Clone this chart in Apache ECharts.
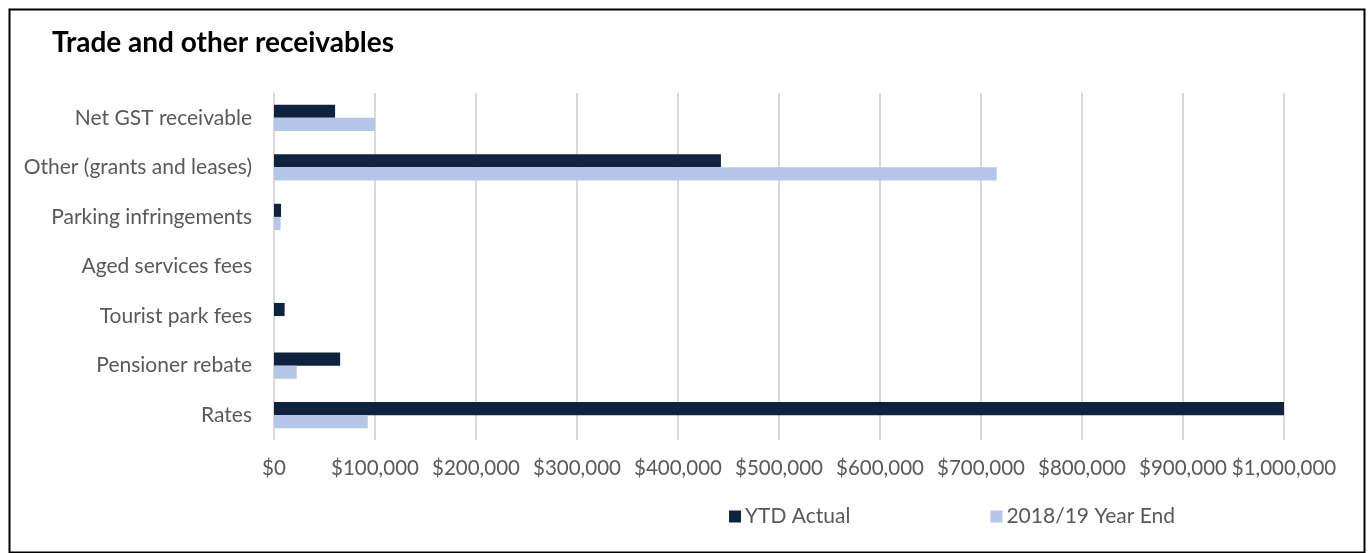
<!DOCTYPE html>
<html>
<head>
<meta charset="utf-8">
<script src="https://cdn.jsdelivr.net/npm/echarts@6/dist/echarts.min.js"></script>
<style>
html,body{margin:0;padding:0;background:#fff;}
#chart{width:1370px;height:553px;}
</style>
</head>
<body>
<div id="chart"></div>
<script>
const categories = ["Net GST receivable","Other (grants and leases)","Parking infringements","Aged services fees","Tourist park fees","Pensioner rebate","Rates"];
const ytdActual = [60500, 442500, 7000, 0, 10500, 65500, 1000000];
const yearEnd1819 = [100000, 715500, 6500, 0, 0, 22500, 92800];
const seriesNames = ["YTD Actual", "2018/19 Year End"];
const xTicks = { min: 0, max: 1000000, interval: 100000 };

const chart = echarts.init(document.getElementById('chart'));
const font = 'Lato, "Open Sans", sans-serif';
chart.setOption({
  animation: false,
  title: {
    text: 'Trade and other receivables',
    left: 52, top: 29, padding: 0,
    textStyle: { fontFamily: font, fontSize: 28, fontWeight: 'bold', color: '#000' }
  },
  graphic: [{
    type: 'rect', left: 7, top: 7,
    shape: { width: 1355, height: 543 },
    style: { fill: 'none', stroke: '#000', lineWidth: 2 }
  }],
  legend: {
    data: seriesNames,
    left: 729, top: 506, padding: 0,
    itemWidth: 12, itemHeight: 12, itemGap: 140,
    icon: 'rect',
    textStyle: { fontFamily: font, fontSize: 21, color: '#595959', padding: [0,0,0,-1] }
  },
  grid: { left: 274, right: 86, top: 93, bottom: 113, containLabel: false },
  xAxis: {
    type: 'value', min: xTicks.min, max: xTicks.max, interval: xTicks.interval,
    axisLine: { show: false }, axisTick: { show: false },
    splitLine: { lineStyle: { color: '#d9d9d9', width: 2 } },
    axisLabel: {
      fontFamily: font, fontSize: 20.5, color: '#595959', margin: 18,
      formatter: v => '$' + v.toLocaleString('en-US')
    }
  },
  yAxis: {
    type: 'category', data: categories, inverse: true,
    axisLine: { show: false }, axisTick: { show: false },
    axisLabel: { fontFamily: font, fontSize: 21, color: '#595959', margin: 22 }
  },
  series: [
    { name: seriesNames[0], type: 'bar', data: ytdActual, barGap: '0%', barCategoryGap: '47%',
      itemStyle: { color: '#0f2341' } },
    { name: seriesNames[1], type: 'bar', data: yearEnd1819, barGap: '0%', barCategoryGap: '47%',
      itemStyle: { color: '#b4c7e7' } }
  ]
});
</script>
</body>
</html>
